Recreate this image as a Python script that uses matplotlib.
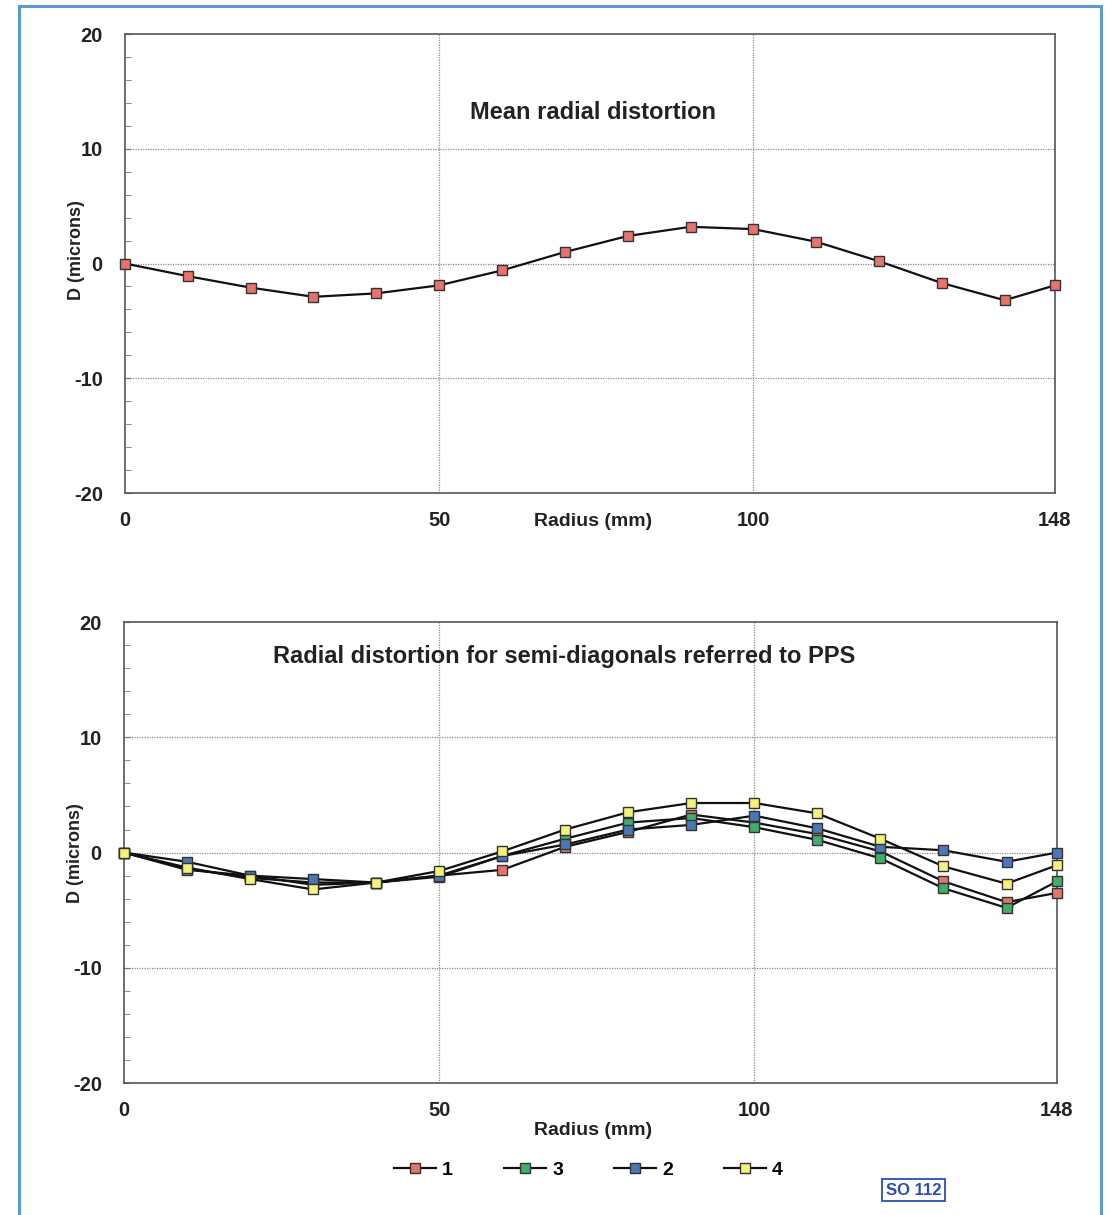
import matplotlib
matplotlib.use("Agg")
import matplotlib.pyplot as plt
from matplotlib.patches import Rectangle
from matplotlib.ticker import MultipleLocator

plt.rcParams['font.family'] = ['Liberation Sans', 'DejaVu Sans']
plt.rcParams['font.weight'] = 'bold'
plt.rcParams['axes.unicode_minus'] = False

# data
radius = [0, 10, 20, 30, 40, 50, 60, 70, 80, 90, 100, 110, 120, 130, 140, 148]
mean_dist = [0, -1.1, -2.1, -2.9, -2.6, -1.9, -0.6, 1.0, 2.4, 3.2, 3.0, 1.9, 0.2, -1.7, -3.2, -1.9]

diag_1 = [0, -1.4, -2.2, -2.6, -2.6, -2.0, -1.5, 0.5, 1.8, 3.3, 2.6, 1.6, 0.1, -2.5, -4.3, -3.5]
diag_3 = [0, -1.5, -2.0, -2.8, -2.6, -2.1, -0.3, 1.2, 2.6, 3.0, 2.2, 1.1, -0.5, -3.1, -4.8, -2.5]
diag_2 = [0, -0.8, -2.0, -2.3, -2.6, -2.0, -0.3, 0.7, 2.0, 2.4, 3.2, 2.1, 0.5, 0.2, -0.8, 0.0]
diag_4 = [0, -1.3, -2.3, -3.2, -2.6, -1.6, 0.1, 2.0, 3.5, 4.3, 4.3, 3.4, 1.2, -1.2, -2.7, -1.1]

series = [('1', diag_1, '#e8736c'), ('3', diag_3, '#3fae6b'),
          ('2', diag_2, '#4a78b5'), ('4', diag_4, '#f5f27c')]

x_ticks = [0, 50, 100, 148]
y_ticks = [-20, -10, 0, 10, 20]
txt = '#222222'

fig = plt.figure(figsize=(11.1, 12.15), dpi=100)
ax1 = fig.add_axes([0.1126, 0.5942, 0.8378, 0.3778])
ax2 = fig.add_axes([0.1117, 0.1086, 0.8405, 0.3794])


def style_axes(ax):
    ax.set_xlim(0, 148)
    ax.set_ylim(-20, 20)
    ax.set_xticks(x_ticks)
    ax.set_yticks(y_ticks)
    ax.yaxis.set_minor_locator(MultipleLocator(2))
    ax.tick_params(axis='x', length=0, pad=13, labelsize=14.5, colors=txt)
    ax.tick_params(axis='y', which='both', direction='in', length=4,
                   color='#777777', pad=16, labelsize=14.5, labelcolor=txt)
    for lab in ax.get_xticklabels() + ax.get_yticklabels():
        lab.set_fontweight('bold')
    for s in ax.spines.values():
        s.set_color('#555555')
        s.set_linewidth(1.2)
    for yv in [-10, 0, 10]:
        ax.axhline(yv, color='#8a8a8a', lw=0.9, ls=(0, (1, 1)), zorder=1)
    for xv in [50, 100]:
        ax.axvline(xv, color='#8a8a8a', lw=0.9, ls=(0, (1, 1)), zorder=1)
    ax.set_ylabel('D (microns)', fontsize=13, fontweight='bold', color=txt)


# top chart
style_axes(ax1)
ax1.plot(radius, mean_dist, color='#111111', lw=1.6, marker='s', ms=7,
         mfc='#e8736c', mec='#333333', mew=1, zorder=3, clip_on=False)
ax1.text(0.503, 0.83, 'Mean radial distortion', transform=ax1.transAxes,
         ha='center', va='center', fontsize=17, fontweight='bold', color=txt)
ax1.set_xlabel('Radius (mm)', fontsize=14, fontweight='bold', color=txt)
ax1.xaxis.set_label_coords(0.503, -0.044)
ax1.yaxis.set_label_coords(-0.043, 0.53)

# bottom chart
style_axes(ax2)
for name, vals, col in series:
    ax2.plot(radius, vals, color='#111111', lw=1.6, marker='s', ms=7,
             mfc=col, mec='#333333', mew=1, zorder=3, clip_on=False, label=name)
ax2.text(0.472, 0.926, 'Radial distortion for semi-diagonals referred to PPS',
         transform=ax2.transAxes, ha='center', va='center', fontsize=17,
         fontweight='bold', color=txt)
ax2.set_xlabel('Radius (mm)', fontsize=14, fontweight='bold', color=txt)
ax2.xaxis.set_label_coords(0.503, -0.085)
ax2.yaxis.set_label_coords(-0.043, 0.5)

fig.legend(loc='center', bbox_to_anchor=(0.53, 0.037), ncol=4, frameon=False,
           fontsize=14, handlelength=2.2, handletextpad=0.3, columnspacing=2.6,
           markerscale=1.0)

# stamp
fig.text(0.823, 0.0205, 'SO 112', ha='center', va='center', fontsize=12,
         color='#2a4fb0', fontweight='bold',
         bbox=dict(boxstyle='square,pad=0.2', fc='none', ec='#2a4fb0', lw=1.3))

# scan border
fig.patches.append(Rectangle((0.0171, -0.01), 0.9748, 1.005, transform=fig.transFigure,
                             fill=False, ec='#5b9bd5', lw=2.2))

fig.savefig('out.png', dpi=100)
